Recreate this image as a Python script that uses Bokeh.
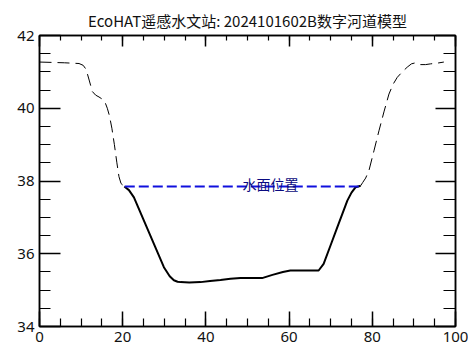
from bokeh.plotting import figure
from bokeh.models import LinearAxis, SingleIntervalTicker, Range1d
from bokeh.embed import file_html
from bokeh.resources import INLINE
from bokeh.core.properties import value

title_text = "EcoHAT遥感水文站: 2024101602B数字河道模型"
water_label = "水面位置"

left_bank_x = [0.0, 3.0, 6.0, 9.5, 10.5, 11.2, 12.0, 12.7, 13.5, 14.3, 15.1, 15.8, 16.3, 16.8, 17.4, 18.0, 18.6, 19.1, 19.6, 20.4]
left_bank_y = [41.27, 41.26, 41.25, 41.23, 41.18, 41.07, 40.75, 40.46, 40.36, 40.31, 40.25, 40.15, 40.0, 39.8, 39.45, 39.0, 38.5, 38.12, 37.93, 37.85]

right_bank_x = [77.2, 77.7, 78.4, 79.2, 80.4, 81.6, 82.8, 84.0, 85.0, 86.0, 87.2, 88.4, 89.4, 90.4, 91.6, 92.8, 94.0, 95.6, 97.2]
right_bank_y = [37.87, 37.96, 38.08, 38.29, 38.83, 39.38, 39.9, 40.39, 40.66, 40.85, 41.0, 41.13, 41.22, 41.25, 41.2, 41.2, 41.22, 41.24, 41.27]

bed_x = [20.4, 21.5, 22.7, 25.1, 27.5, 29.9, 31.3, 32.3, 33.2, 33.9, 36.0, 38.7, 41.0, 43.5, 45.9, 48.3, 53.5, 56.0, 58.5, 60.3, 64.0, 67.1, 68.3, 70.0, 71.6, 74.0, 75.0, 76.0, 77.2]
bed_y = [37.85, 37.75, 37.55, 36.91, 36.27, 35.63, 35.38, 35.27, 35.23, 35.22, 35.21, 35.22, 35.25, 35.28, 35.31, 35.33, 35.33, 35.42, 35.5, 35.54, 35.54, 35.54, 35.72, 36.24, 36.73, 37.46, 37.68, 37.83, 37.87]

water_level = 37.85
water_x = [20.5, 77.0]
water_y = [water_level, water_level]
label_x = 48.8
label_y = 37.93

x_min, x_max, x_major, x_minor_count = 0, 100, 20, 4
y_min, y_max, y_major, y_minor_count = 34, 42, 2, 4

p = figure(width=468, height=350, output_backend="svg", toolbar_location=None,
           x_range=Range1d(x_min, x_max), y_range=Range1d(y_min, y_max),
           min_border_left=39, min_border_right=13, min_border_top=35, min_border_bottom=24,
           x_axis_location=None, y_axis_location=None)
p.xgrid.visible = False
p.ygrid.visible = False
p.outline_line_color = "black"
p.outline_line_width = 1.5
p.background_fill_color = "white"
p.border_fill_color = "white"

p.title.text = title_text
p.title.align = "center"
p.title.text_font = "Noto Sans CJK SC"
p.title.text_font_size = "15px"
p.title.text_font_style = "normal"
p.title.text_color = "#111111"
p.title.standoff = 9

def make_axis(ticker_interval, minor, major_in, minor_in, show_labels):
    ax = LinearAxis(ticker=SingleIntervalTicker(interval=ticker_interval, num_minor_ticks=minor))
    ax.major_tick_in = major_in
    ax.major_tick_out = 0
    ax.minor_tick_in = minor_in
    ax.minor_tick_out = 0
    ax.axis_line_width = 1.5
    ax.major_tick_line_width = 1.5
    ax.minor_tick_line_width = 1.2
    ax.axis_line_color = "black"
    ax.major_tick_line_color = "black"
    ax.minor_tick_line_color = "black"
    if show_labels:
        ax.major_label_text_font = "Noto Sans"
        ax.major_label_text_font_size = "15px"
        ax.major_label_text_color = "#111111"
        ax.major_label_standoff = 5
    else:
        ax.major_label_text_font_size = "0px"
        ax.major_label_standoff = 0
        ax.major_label_text_alpha = 0
    return ax

p.add_layout(make_axis(x_major, x_minor_count, 15, 8, True), "below")
p.add_layout(make_axis(x_major, x_minor_count, 11, 5, False), "above")
p.add_layout(make_axis(y_major, y_minor_count, 21, 11, True), "left")
p.add_layout(make_axis(y_major, y_minor_count, 20, 12, False), "right")

p.line(left_bank_x, left_bank_y, line_color="black", line_width=1, line_dash="12 6")
p.line(right_bank_x, right_bank_y, line_color="black", line_width=1, line_dash="12 6")
p.line(bed_x, bed_y, line_color="black", line_width=2)
p.line(water_x, water_y, line_color="#1010dd", line_width=2, line_dash="10 4")

p.text(x=[label_x], y=[label_y], text=[water_label], text_font=value("Noto Sans CJK SC"),
       text_font_size="14px", text_color="#0a0a80", text_align="left", text_baseline="alphabetic")

open("out.html", "w").write(file_html(p, INLINE))
